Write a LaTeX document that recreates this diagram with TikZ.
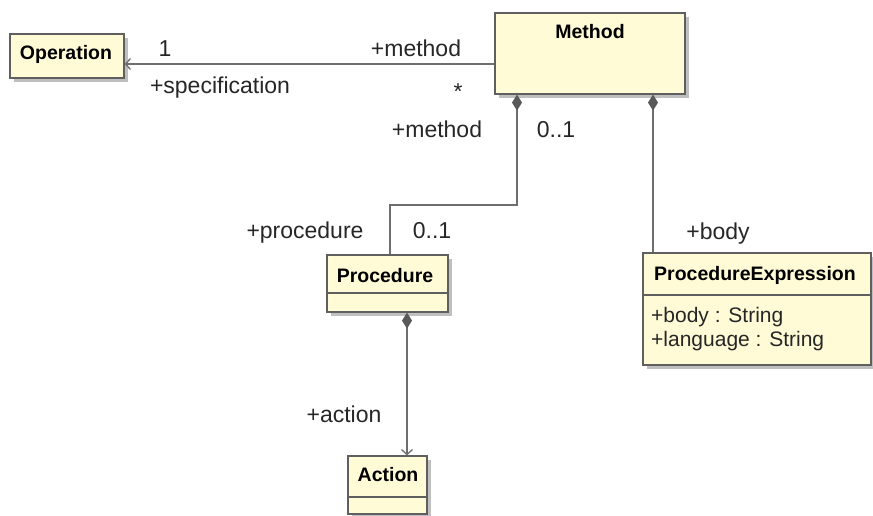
\documentclass[tikz,border=0pt]{standalone}
\usepackage{fontspec}
\setmainfont{Liberation Sans}
\usetikzlibrary{arrows.meta}
\usetikzlibrary{shadows}

\definecolor{clsfill}{RGB}{255,251,214}
\definecolor{clsdraw}{RGB}{95,95,95}
\definecolor{linegray}{RGB}{110,110,110}

\begin{document}
\begin{tikzpicture}[x=1pt,y=-1pt]
\tikzset{>={Straight Barb[length=5pt,width=11pt]}}
\tikzstyle{cls}=[rectangle, draw=clsdraw, fill=clsfill, line width=1.2pt, inner sep=0pt,
  drop shadow={shadow xshift=4pt,shadow yshift=-4pt,fill=black!25,opacity=1}]
\tikzstyle{title}=[font=\fontsize{19.5}{22}\selectfont\bfseries, anchor=base, inner sep=0pt]
\tikzstyle{attr}=[font=\fontsize{21}{24}\selectfont, anchor=base west, inner sep=0pt, text=black!85]
\tikzstyle{role}=[font=\fontsize{23}{26}\selectfont, anchor=base, inner sep=0pt, text=black!85]
\tikzstyle{assoc}=[draw=linegray, line width=1.3pt]
\tikzstyle{comp}=[assoc, arrows={{Diamond[length=16pt,width=10pt,color=black!65]}-}]
\tikzstyle{compnav}=[assoc, arrows={{Diamond[length=16pt,width=10pt,color=black!65]}->}]
\tikzstyle{sep}=[draw=clsdraw, line width=1.2pt]

\useasboundingbox (0,0) rectangle (873,516);

% classes
\node[cls, minimum width=114pt, minimum height=44pt](op) at (67,56){};
\node[cls, minimum width=190pt, minimum height=81pt](meth) at (590,53.5){};
\node[cls, minimum width=121pt, minimum height=57pt](proc) at (387.5,283.5){};
\node[cls, minimum width=228pt, minimum height=112pt](pexp) at (757,309){};
\node[cls, minimum width=79pt, minimum height=58pt](act) at (387.5,485){};

\draw[sep] (proc.west |- 0,293) -- (proc.east |- 0,293);
\draw[sep] (pexp.west |- 0,295) -- (pexp.east |- 0,295);
\draw[sep] (act.west |- 0,497) -- (act.east |- 0,497);

\node[title](optitle) at (66,60){Operation};
\node[title](methtitle) at (590,39){Method};
\node[title](proctitle) at (385,282){Procedure};
\node[title](pexptitle) at (755,280){ProcedureExpression};
\node[title](acttitle) at (388,481){Action};

\node[attr](bodyattr) at (651,322){+body : String};
\node[attr](langattr) at (651,346){+language : String};

% associations
\draw[assoc,->] (meth.west |- 0,64) -- (op.east |- 0,64);
\draw[comp] (meth.south -| 517,0) -- (517,205) -| (proc.north -| 390,0);
\draw[comp] (meth.south -| 653,0) -- (pexp.north -| 653,0);
\draw[compnav] (proc.south -| 407,0) -- (act.north -| 407,0);

% role names and multiplicities
\node[role](opmult) at (165,57){1};
\node[role](oprole) at (220,94){+specification};
\node[role](methrole) at (416,57){+method};
\node[role](methmult) at (458,100){*};
\node[role](ownerrole) at (437,138){+method};
\node[role](ownermult) at (556,138){0..1};
\node[role](procrole) at (305,238){+procedure};
\node[role](procmult) at (432,238){0..1};
\node[role](bodyrole) at (718,239){+body};
\node[role](actrole) at (344,422){+action};
\end{tikzpicture}
\end{document}
